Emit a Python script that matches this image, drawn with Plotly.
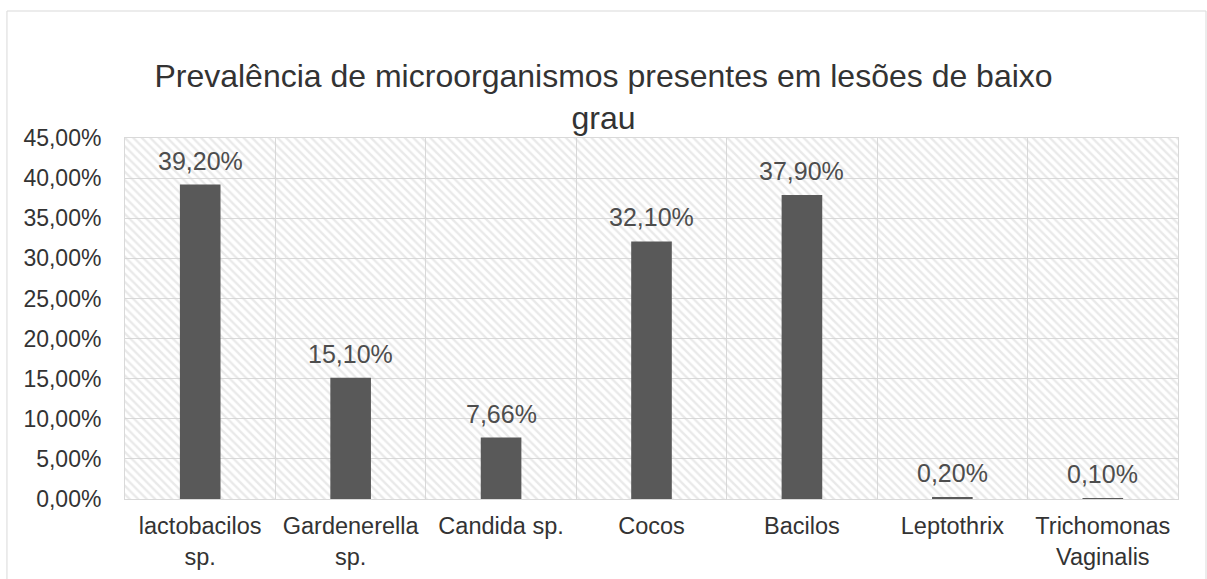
import plotly.graph_objects as go

categories = ["lactobacilos<br>sp.", "Gardenerella<br>sp.", "Candida sp.", "Cocos",
              "Bacilos", "Leptothrix", "Trichomonas<br>Vaginalis"]
values = [39.20, 15.10, 7.66, 32.10, 37.90, 0.20, 0.10]
y_ticks = [0, 5, 10, 15, 20, 25, 30, 35, 40, 45]
y_tick_labels = ["0,00%", "5,00%", "10,00%", "15,00%", "20,00%",
                 "25,00%", "30,00%", "35,00%", "40,00%", "45,00%"]

Y_MAX = 45
FONT = "Liberation Sans, Arial, sans-serif"

fig = go.Figure()

# hatched plot-area background (one full-width cell per category)
fig.add_trace(go.Bar(
    x=categories, y=[Y_MAX] * len(categories), width=1,
    marker=dict(color="rgba(0,0,0,0)", line=dict(width=0),
                pattern=dict(shape="\\", fgcolor="#d4d4d4", bgcolor="rgba(0,0,0,0)",
                             size=6, solidity=0.4)),
    hoverinfo="skip", showlegend=False,
))

fig.add_trace(go.Bar(
    x=categories, y=values, width=0.27,
    marker=dict(color="#595959", line=dict(width=0)),
    showlegend=False,
))

for c, v in zip(categories, values):
    fig.add_annotation(x=c, y=v, text=f"{v:.2f}%".replace(".", ","),
                       showarrow=False, yanchor="middle", yshift=24,
                       font=dict(family=FONT, size=25, color="#4d4d4d"))

fig.add_shape(type="rect", xref="paper", yref="paper",
              x0=-0.1121, x1=1.0266, y0=-0.25, y1=1.3518,
              line=dict(color="#d9d9d9", width=1), fillcolor="rgba(0,0,0,0)", layer="below")

fig.update_layout(
    width=1207, height=579,
    margin=dict(l=125, r=29, t=138, b=80),
    paper_bgcolor="white", plot_bgcolor="white",
    barmode="overlay",
    font=dict(family=FONT, color="#333333"),
    title=dict(text="Prevalência de microorganismos presentes em lesões de baixo<br>grau",
               x=0.5, xref="container", xanchor="center",
               y=1 - 87 / 579, yref="container", yanchor="top",
               font=dict(family=FONT, size=32, color="#333333")),
    xaxis=dict(type="category", tickson="boundaries", showgrid=True, gridcolor="#d9d9d9",
               gridwidth=1, showline=True, linecolor="#d9d9d9", mirror=True,
               ticks="", tickfont=dict(size=23.5, color="#333333"), ticklabelstandoff=6,
               automargin=False, range=[-0.5, len(categories) - 0.5]),
    yaxis=dict(range=[0, Y_MAX], tickvals=y_ticks, ticktext=y_tick_labels,
               showgrid=True, gridcolor="#d9d9d9", gridwidth=1, zeroline=False,
               showline=True, linecolor="#d9d9d9", mirror=True, ticks="",
               tickfont=dict(size=23, color="#333333"), ticklabelstandoff=18,
               automargin=False),
)

fig.write_html("out.html")
